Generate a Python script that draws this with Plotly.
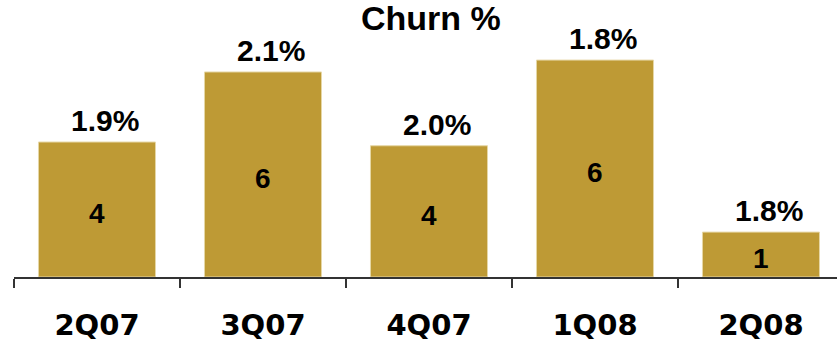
import plotly.graph_objects as go

categories = ["2Q07", "3Q07", "4Q07", "1Q08", "2Q08"]
bar_values = [3.97, 6.03, 3.86, 6.38, 1.32]
bar_labels = ["4", "6", "4", "6", "1"]
churn_labels = ["1.9%", "2.1%", "2.0%", "1.8%", "1.8%"]

BAR_COLOR = "#BE9A35"
FONT = "Liberation Sans"

fig = go.Figure()
fig.add_trace(go.Bar(
    x=categories,
    y=bar_values,
    marker=dict(color=BAR_COLOR, line=dict(color="#E6D7A6", width=1)),
    width=0.705,
    hoverinfo="skip",
))

for c, v, lab, inner in zip(categories, bar_values, churn_labels, bar_labels):
    fig.add_annotation(
        x=c, y=v, xref="x", yref="y", text=lab, showarrow=False,
        yanchor="bottom", xanchor="center", xshift=8, yshift=3,
        font=dict(family=FONT, size=30, color="black", weight="bold"),
    )
    fig.add_annotation(
        x=c, y=v / 2, xref="x", yref="y", text=inner, showarrow=False,
        yanchor="middle", xanchor="center", yshift=-4,
        font=dict(family=FONT, size=28, color="black", weight="bold"),
    )

fig.add_annotation(
    x=424 / 837, y=1 - 23 / 345, xref="paper", yref="paper",
    text="Churn %", showarrow=False, xanchor="center", yanchor="middle",
    font=dict(family=FONT, size=34, color="black", weight="bold"),
)

fig.update_layout(
    width=837, height=345,
    margin=dict(l=14, r=0, t=0, b=68),
    paper_bgcolor="white", plot_bgcolor="white",
    showlegend=False,
)
fig.update_xaxes(
    type="category",
    range=[-0.5, 4.458],
    showline=True, linecolor="#333333", linewidth=2,
    ticks="outside", tickson="boundaries", ticklen=9, tickwidth=1.5, tickcolor="#333333",
    ticklabelstandoff=21,
    tickfont=dict(family="DejaVu Sans", size=29, color="black", weight="bold"),
    showgrid=False, zeroline=False,
)
fig.update_yaxes(
    range=[0, 8.147], visible=False, showgrid=False, zeroline=False,
)

fig.write_html("out.html")
